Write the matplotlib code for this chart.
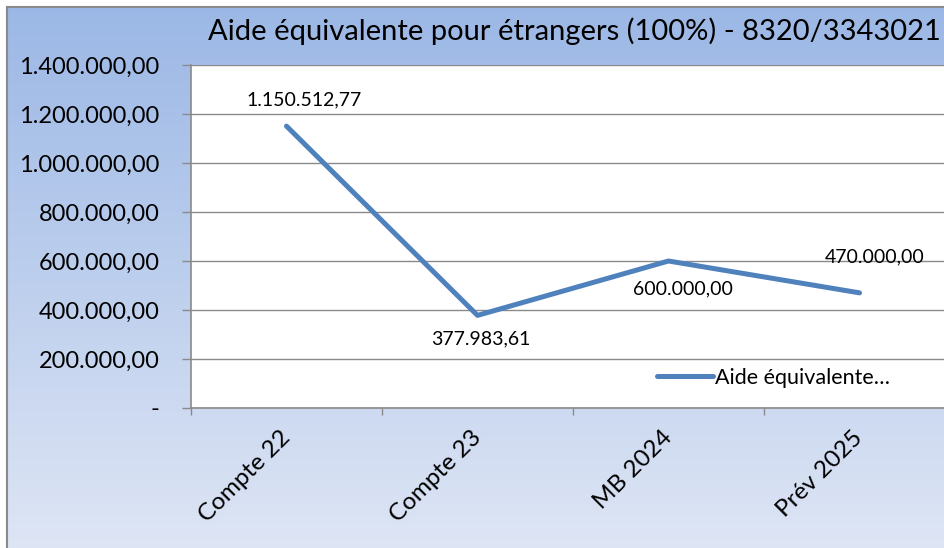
import matplotlib
matplotlib.use('Agg')
import matplotlib.pyplot as plt
import numpy as np

categories = ['Compte 22', 'Compte 23', 'MB 2024', 'Prév 2025']
values = [1150512.77, 377983.61, 600000.00, 470000.00]
y_ticks = [0, 200000, 400000, 600000, 800000, 1000000, 1200000, 1400000]
title = 'Aide équivalente pour étrangers (100%) - 8320/3343021'
series_label = 'Aide équivalente…'

# label offsets (pixels) for data labels
label_offsets = [(18, 26), (3, -23), (14, -28), (15, 36)]

plt.rcParams['font.family'] = ['Lato', 'DejaVu Sans']


def fmt(v):
    if v == 0:
        return '-'
    s = f'{v:,.2f}'
    return s.replace(',', 'X').replace('.', ',').replace('X', '.')


W, H = 945, 548
fig = plt.figure(figsize=(W / 100, H / 100), dpi=100)
fig.patch.set_facecolor('white')

# background gradient
bg = fig.add_axes([0, 0, 1, 1], zorder=0)
bg.set_axis_off()
top = np.array([0.61, 0.72, 0.90])
bot = np.array([0.87, 0.90, 0.96])
t = np.linspace(0, 1, 256)[:, None]
grad = top * (1 - t) + bot * t
img = np.repeat(grad[:, None, :], 2, axis=1)
bg.imshow(img, extent=[7 / W, 1, 0, 1 - 7 / H], aspect='auto', origin='upper')
bg.set_xlim(0, 1)
bg.set_ylim(0, 1)
bg.plot([7 / W, 7 / W], [0, 1 - 7 / H], color='#8a8a8a', lw=1.5)
bg.plot([7 / W, 1], [1 - 7 / H, 1 - 7 / H], color='#8a8a8a', lw=1.5)

ax = fig.add_axes([191 / W, 1 - 408 / H, (955 - 191) / W, (408 - 65) / H], zorder=1)
ax.set_facecolor('white')
x = np.arange(len(categories)) + 0.5
ax.plot(x, values, color='#4f81bd', lw=3.6, solid_capstyle='round',
        solid_joinstyle='round', label=series_label, clip_on=False, zorder=3)
ax.set_xlim(0, 4)
ax.set_ylim(0, 1400000)
ax.set_yticks(y_ticks)
ax.set_yticklabels([fmt(v) for v in y_ticks], fontsize=17)
ax.grid(axis='y', color='#8a8a8a', lw=1)
ax.set_axisbelow(True)
ax.set_xticks(range(5))
ax.set_xticklabels([])
ax.set_xticks(x, minor=True)
ax.set_xticklabels(categories, minor=True, rotation=45, ha='right', va='center',
                   rotation_mode='anchor', fontsize=17.5)
ax.tick_params(axis='x', which='minor', length=0, pad=19)
ax.tick_params(axis='x', which='major', length=5, color='#8a8a8a', width=1)
ax.tick_params(axis='y', length=6.5, color='#8a8a8a', width=1, pad=16, labelcolor='#000000')
for s in ['top', 'right']:
    ax.spines[s].set_visible(False)
for s in ['left', 'bottom']:
    ax.spines[s].set_color('#8a8a8a')
    ax.spines[s].set_linewidth(1.2)

for xi, v, (dx, dy) in zip(x, values, label_offsets):
    ax.annotate(fmt(v), (xi, v), xytext=(dx, dy), textcoords='offset pixels',
                ha='center', va='center', fontsize=14, color='#000000',
                annotation_clip=False, zorder=4)

leg = ax.legend(loc='center left', bbox_to_anchor=(657 / W, 1 - 378 / H),
                bbox_transform=fig.transFigure, frameon=False, fontsize=15.5,
                handlelength=2.6, handletextpad=0.1, borderpad=0, borderaxespad=0)

fig.text(574 / W, 1 - 31 / H, title, ha='center', va='center', fontsize=21)

fig.savefig('out.png', dpi=100)
